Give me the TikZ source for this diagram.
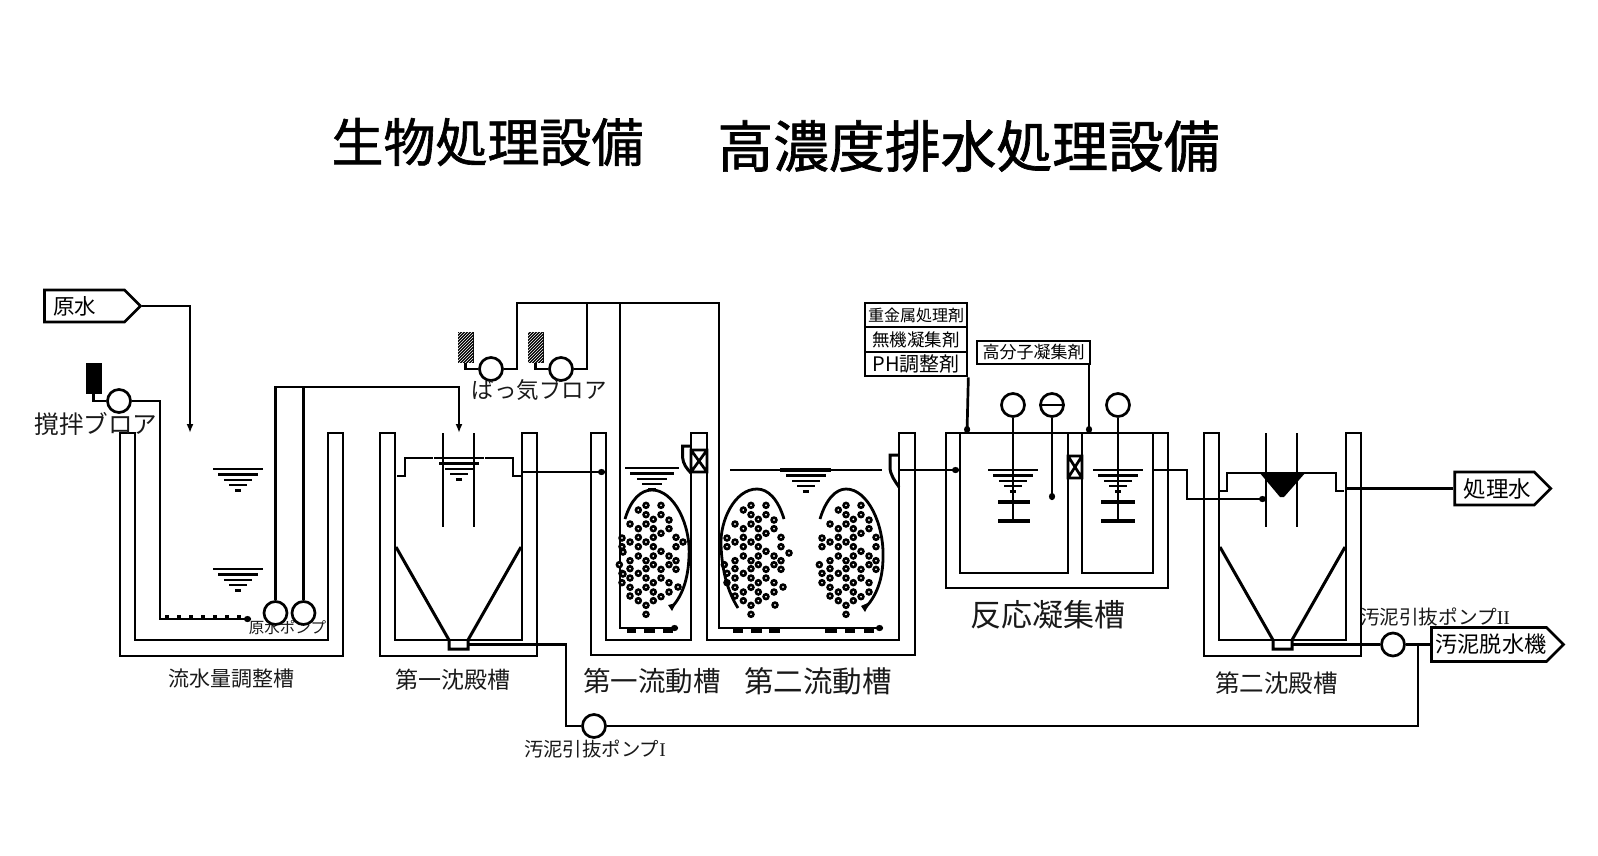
\documentclass[tikz,border=0pt]{standalone}
\usepackage{fontspec}
\setmainfont{Noto Sans CJK JP}
\newfontfamily\latserif{Liberation Serif}
\newfontfamily\titlefont[FakeBold=1.2]{Noto Sans CJK JP}
\usetikzlibrary{arrows.meta,shapes.symbols,patterns}
\tikzset{
  x=1pt,y=-1pt,
  ln/.style={line width=2.7pt,line cap=butt,line join=miter},
  pipe/.style={ln},
  feed/.style={ln,-{Latex[length=9pt,width=7pt]}},
  dotend/.style={ln,-{Circle[length=7pt,width=6pt]}},
  pumpc/.style={circle,draw,line width=2.7pt,minimum size=23pt,inner sep=0pt,fill=white},
  blk/.style={draw,fill=black,line width=1pt,minimum width=15pt,minimum height=30pt,inner sep=0pt},
  hatchbox/.style={blk,postaction={pattern=north east lines,pattern color=white}},
  sig/.style={signal,signal to=east,signal pointer angle=90,draw,line width=2.7pt,inner sep=0pt,fill=white},
  chem/.style={draw,line width=2.7pt,inner sep=0pt,fill=white},
  txt/.style={inner sep=0pt,text=black!90},
  bub/.style={draw,line width=2.6pt,fill=white},
}
\newcommand{\fs}[1]{\fontsize{#1}{#1}\selectfont}
\newcommand{\lvl}[3]{% x y width
  \foreach \i/\f in {0/1,1/.8,2/.56,3/.36,4/.13}{
    \draw[line width=2.4pt] ({#1-#3*\f/2},{#2+\i*5.4}) -- ({#1+#3*\f/2},{#2+\i*5.4});}}
\newcommand{\bubbles}[2]{% offset
  \foreach \a/\b in {108/76,153/76,85/90,108/104,153/104,130/118,177/120,60/132,108/132,85/146,130/146,177/146,153/160,130/172,36/174,85/172,198/172,60/186,108/186,36/200,85/200,130/200,198/200,153/214,130/228,85/228,177/228,60/242,108/242,198/242,28/254,130/254,177/254,60/266,108/266,153/268,198/268,36/280,85/280,60/294,108/294,153/294,36/308,130/308,177/308,60/322,108/322,85/336,130/336,177/336,60/348,153/350,85/362,130/362,108/376,108/403}{
    \draw[bub] ({#1+\a/3},{#2+\b/3}) circle (2.4pt);}}
\newcommand{\settler}[1]{% outer-left x
  \draw[ln] (#1,433) -- (#1,656) -- ({#1+157},656) -- ({#1+157},433) -- ({#1+142},433) -- ({#1+142},640) -- ({#1+15},640) -- ({#1+15},433) -- cycle;
  \draw[fill=white,draw=none] ({#1+16.5},547) -- ({#1+69},638.9) -- ({#1+88},638.9) -- ({#1+141},547) -- cycle;
  \draw[line width=3pt] ({#1+16},547) -- ({#1+69},640) -- ({#1+69},649) -- ({#1+88},649) -- ({#1+88},640) -- ({#1+141},547);
}
\begin{document}
\begin{tikzpicture}
\useasboundingbox (0,0) rectangle (1598,855);
% titles
\node[inner sep=0pt] (t1) at (487.5,142) {\titlefont\fs{52}生物処理設備};
\node[inner sep=0pt] (t2) at (968.5,146) {\titlefont\fs{55.8}高濃度排水処理設備};

% tank 1
\draw[ln] (120,433) -- (120,656) -- (343,656) -- (343,433) -- (328,433) -- (328,640) -- (135,640) -- (135,433) -- cycle;
\lvl{238}{469}{50}
\lvl{238}{569}{50}
\node[txt] (l1) at (231,679) {\fs{21}流水量調整槽};
\node[txt] (l2) at (287.5,628) {\fs{15.5}原水ポンプ};
\node[txt] (stirl) at (96,424) {\fs{24.6}撹拌ブロア};

% raw water
\node[sig,minimum width=96pt,minimum height=32pt] (raw) at (84.5,306) {\kern-10pt\fs{21.5}原水\kern10pt};
\coordinate (rawin) at (190,433);
\draw[feed] (raw.east) -| (rawin);

% stirring blower
\node[blk] (sb) at (93.5,378) {};
\node[pumpc] (sp) at (119,401) {};
\coordinate (se1) at (160,401);
\coordinate (se2) at (160,619);
\coordinate (se3) at (251,619);
\draw[pipe] (sb.south) |- (sp.west);
\draw[dotend] (sp.east) -- (se1) -- (se2) -- (se3);
\draw[line width=2.4pt,dash pattern=on 4pt off 8pt] (165,616.5) -- (247,616.5);

% raw pumps
\node[pumpc] (rp1) at (275.5,613) {};
\node[pumpc] (rp2) at (303.5,613) {};
\coordinate (rq) at (459,433);
\draw[feed] (rp1.north) |- (303.5,387) -- (459,387) -- (rq);
\draw[pipe] (rp2.north) -- (303.5,387);

% first settler
\settler{380}
\node[txt] (l3) at (452.5,680) {\fs{23}第一沈殿槽};
\draw[line width=2.4pt] (443,433) -- (443,527) (474,433) -- (474,527);
\draw[ln] (397,476) -- (405,476) -- (405,458) -- (433,458);
\draw[ln] (485,458) -- (513,458) -- (513,476) -- (522,476);
\lvl{459}{458}{50}

% aeration
\node[hatchbox] (bx1) at (465.5,347) {};
\node[hatchbox] (bx2) at (535.5,347) {};
\node[pumpc] (ab1) at (491,369) {};
\node[pumpc] (ab2) at (561,369) {};
\node[txt] (l4) at (539,390) {\fs{22.5}ばっ気ブロア};
\draw[pipe] (bx1.south) |- (ab1.west);
\draw[pipe] (bx2.south) |- (ab2.west);
\coordinate (d1) at (678,628);
\coordinate (d2) at (883,628);
\draw[dotend] (ab1.east) -| (517,303) -- (719,303) -- (719,628) -- (d2);
\draw[pipe] (ab2.east) -| (587,303);
\draw[dotend] (620,303) -- (620,628) -- (d1);
\foreach \a/\b in {627/636,644/655,663/673,733/743,751/762,769/780,825/837,845/855,864/874}{
  \draw[line width=4.5pt] (\a,630.5) -- (\b,630.5);}

% fluidised tanks
\draw[ln] (591,433) -- (591,655) -- (915,655) -- (915,433) -- (899,433) -- (899,640) -- (707,640) -- (707,433) -- (691,433) -- (691,640) -- (606,640) -- (606,433) -- cycle;
\draw[dotend] (522,472) -- (605,472);
\lvl{652}{468}{54}
\draw[line width=2.7pt] (730,470) -- (882,470);
\lvl{806}{470}{50}
\draw[line width=3.4pt] (780,470) -- (831,470);
% valve and weirs
\draw[ln] (691,450) rectangle (707,472) (691,450) -- (707,472) (707,450) -- (691,472);
\draw[line width=3pt] (691,446) -- (682.5,446) -- (682.5,457) .. controls (683,464) and (687,469) .. (691,473);
\draw[line width=3pt] (899,455) -- (890,455) -- (890,467) .. controls (890,475) and (895,481) .. (899,487);
% bubbles
\bubbles{610}{480}
\bubbles{715}{480}
\bubbles{810}{480}
\draw[bub] (683,542) circle (2.4pt) (623,552) circle (2.4pt) (623,574) circle (2.4pt) (678,587) circle (2.4pt);
\draw[bub] (789,553) circle (2.4pt) (783,587) circle (2.4pt) (775,605) circle (2.4pt);
\draw[line width=2.8pt] (625,519) .. controls (631,499) and (641,490) .. (652,490) .. controls (674,490) and (691,525) .. (689,557) .. controls (688,580) and (682,596) .. (672,607);
\draw[line width=2.8pt] (784,519) .. controls (778,499) and (768,489) .. (757,489) .. controls (735,489) and (720,520) .. (721,545) .. controls (722,572) and (728,592) .. (738,608);
\draw[line width=2.8pt] (820,519) .. controls (826,499) and (836,489) .. (846,489) .. controls (868,489) and (884,525) .. (883,557) .. controls (883,580) and (876,596) .. (866,607);
\fill (672,611) -- (668,605) -- (676,603) -- cycle;
\fill (865,612) -- (861,606) -- (870,602) -- cycle;
\node[txt] (l5) at (652,681) {\fs{27.5}第一流動槽};
\node[txt] (l6) at (818,681) {\fs{29.5}第二流動槽};

% reaction tank
\draw[ln] (946,433) rectangle (1168,588);
\draw[ln] (960,433) -- (960,573) -- (1068,573) -- (1068,433);
\draw[ln] (1082,433) -- (1082,573) -- (1153,573) -- (1153,433);
\draw[ln] (1068,456) rectangle (1082,478) (1068,456) -- (1082,478) (1082,456) -- (1068,478);
\node[txt] (l7) at (1048,615) {\fs{31}反応凝集槽};
\coordinate (rin) at (959,470);
\draw[dotend] (899,470) -- (rin);
\lvl{1013}{470}{50}
\lvl{1118}{470}{50}
\node[pumpc] (m1) at (1013,405) {};
\node[pumpc] (m2) at (1052,405) {};
\node[pumpc] (m3) at (1118,405) {};
\draw[line width=2.4pt] (m2.west) -- (m2.east);
\coordinate (s1) at (1013,523);
\coordinate (s2) at (1052,500);
\coordinate (s3) at (1118,523);
\draw[ln] (m1.south) -- (s1);
\draw[dotend] (m2.south) -- (s2);
\draw[ln] (m3.south) -- (s3);
\draw[line width=4.5pt] (998,502) -- (1030,502) (998,521) -- (1030,521) (1101,502) -- (1135,502) (1101,521) -- (1135,521);

% chemicals
\node[chem,minimum width=102pt,minimum height=24pt] (c1) at (916,315) {\fs{16}重金属処理剤};
\node[chem,minimum width=102pt,minimum height=25pt] (c2) at (916,339.5) {\fs{17.5}無機凝集剤};
\node[chem,minimum width=102pt,minimum height=24pt] (c3) at (916,364) {\fs{20}PH調整剤\hspace{14pt}};
\node[chem,minimum width=113pt,minimum height=23pt] (c4) at (1033.5,352.5) {\fs{17}高分子凝集剤};
\coordinate (ci1) at (967,433);
\coordinate (ci2) at (1089,433);
\draw[dotend] (c3.south east) -- (ci1);
\draw[dotend] (1089,364) -- (ci2);

% second settler
\settler{1204}
\node[txt] (l8) at (1276.5,683) {\fs{24.5}第二沈殿槽};
\draw[line width=2.4pt] (1266,433) -- (1266,527) (1297,433) -- (1297,527);
\draw[ln] (1219,491) -- (1227,491) -- (1227,473) -- (1336,473) -- (1336,491) -- (1344,491);
\fill (1259,472) -- (1306,472) -- (1284,497) -- (1280,497) -- cycle;
\coordinate (ri) at (1266,499);
\draw[dotend] (1153,470) -- (1187,470) -- (1187,499) -- (ri);

% treated water
\node[sig,minimum width=96pt,minimum height=33pt] (tw) at (1494.5,488.5) {\kern3pt\fs{22.5}処理水\kern-3pt};
\draw[pipe] (1345,488.5) -- (tw.west);

% sludge
\node[pumpc] (sl2) at (1393,644.5) {};
\node[pumpc] (sl1) at (594,726) {};
\node[sig,minimum width=132pt,minimum height=34pt] (dw) at (1489,644.5) {\kern2pt\fs{22.2}汚泥脱水機\kern-2pt};
\draw[pipe] (468,644.5) -| (566,726) -- (sl1.west);
\draw[pipe] (1291,644.5) -- (sl2.west);
\draw[pipe] (sl2.east) -- (dw.west);
\draw[pipe] (sl1.east) -| (1418,644.5);
\node[txt] (l9) at (595,749) {\fs{19.4}汚泥引抜ポンプ{\latserif I}};
\node[txt] (l10) at (1435,617) {\fs{19.6}汚泥引抜ポンプ{\latserif II}};
\end{tikzpicture}
\end{document}
